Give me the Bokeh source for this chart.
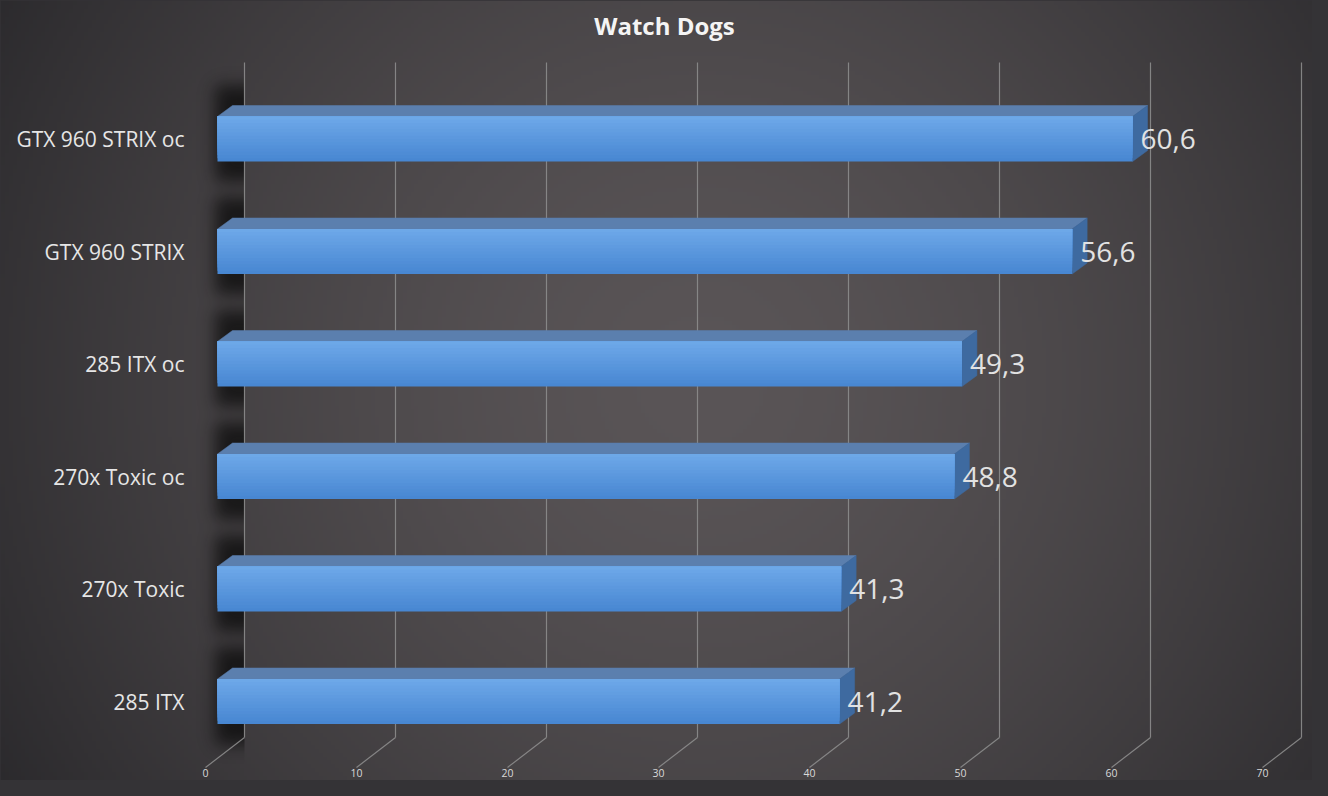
import numpy as np
from bokeh.plotting import figure
from bokeh.models import Range1d
from bokeh.core.properties import value
from bokeh.embed import file_html
from bokeh.resources import INLINE

# ---------------- data ----------------
chart_title = "Watch Dogs"
categories = ["285 ITX", "270x Toxic", "270x Toxic oc", "285 ITX oc", "GTX 960 STRIX", "GTX 960 STRIX oc"]
fps = [41.2, 41.3, 48.8, 49.3, 56.6, 60.6]
fps_labels = ["41,2", "41,3", "48,8", "49,3", "56,6", "60,6"]
ticks = [0, 10, 20, 30, 40, 50, 60, 70]
tick_labels = ["0", "10", "20", "30", "40", "50", "60", "70"]

# ---------------- layout (pixels) ----------------
W, H = 1312, 780
PXX = 15.1      # px per unit on value axis
PXY = 112.5     # px per category step
X0 = 217        # px from left of value 0 (front plane)
Y0 = 701        # px from top of first category centre

x_start = -X0 / PXX
x_end = x_start + W / PXX
y_start = -(H - Y0) / PXY
y_end = y_start + H / PXY


def px(n):
    return n / PXX


def py(n):
    return n / PXY


BG_EDGE = "#343336"
p = figure(width=W, height=H, x_range=Range1d(x_start, x_end), y_range=Range1d(y_start, y_end),
           x_axis_type=None, y_axis_type=None, toolbar_location=None, output_backend="svg",
           min_border=0, outline_line_color=None,
           background_fill_color=BG_EDGE, border_fill_color=BG_EDGE)

# ---------------- background gradient ----------------
nh, nw = 200, 330
xs = np.linspace(0, W, nw)
ys = np.linspace(H, 0, nh)
XX, YY = np.meshgrid(xs, ys)
d = np.sqrt(((XX - 700) / 850.0) ** 2 + ((YY - 380) / 850.0) ** 2)
t = np.clip(d, 0, 1) ** 1.5
c_center = np.array([90, 85, 87])
c_edge = np.array([40, 39, 42])
rgb = c_center[None, None, :] * (1 - t[..., None]) + c_edge[None, None, :] * t[..., None]
img = np.empty((nh, nw), dtype=np.uint32)
view = img.view(dtype=np.uint8).reshape((nh, nw, 4))
view[..., 0:3] = rgb.astype(np.uint8)
view[..., 3] = 255
p.image_rgba(image=[img], x=x_start, y=y_start, dw=x_end - x_start, dh=y_end - y_start)

idx = list(range(len(categories)))
half = py(22.5)
ddx = px(15)
ddy = py(11)
back = px(27)

# ---------------- soft wall shadows (blurred image built from bar positions) ----------------
sx0, sx1, pad = 176, 244, 32
cols = np.arange(sx0 - pad, sx1 + pad) + 0.5
rows = np.arange(0, H) + 0.5
mask = np.zeros((len(rows), len(cols)))
for i in idx:
    c = Y0 - i * PXY
    rmask = (rows >= c - 22.5 - 11 - 20) & (rows <= c + 22.5 + 20)
    cmask = (cols >= 215) & (cols <= 270)
    mask[np.ix_(rmask, cmask)] = 1.0
sig = 8.0
kx = np.arange(-28, 29)
kern = np.exp(-kx ** 2 / (2 * sig ** 2))
kern /= kern.sum()
blur = np.apply_along_axis(lambda r: np.convolve(r, kern, mode="same"), 1, mask)
blur = np.apply_along_axis(lambda r: np.convolve(r, kern, mode="same"), 0, blur)
blur = blur[:, pad:pad + (sx1 - sx0)]
alpha = np.clip(0.72 * blur, 0, 1)[::-1, :]
sh = np.zeros(alpha.shape, dtype=np.uint32)
shv = sh.view(dtype=np.uint8).reshape(alpha.shape + (4,))
shv[..., 0:3] = 8
shv[..., 3] = (alpha * 255).astype(np.uint8)
p.image_rgba(image=[sh], x=px(sx0 - X0), y=y_start, dw=px(sx1 - sx0), dh=y_end - y_start)

# ---------------- gridlines (back wall + floor) ----------------
grid_top = y_end - py(62)
grid_bot = py(-36)
p.segment(x0=[tk + back for tk in ticks], x1=[tk + back for tk in ticks],
          y0=[grid_bot] * len(ticks), y1=[grid_top] * len(ticks),
          line_color="#8c8c8c", line_width=1.2, line_alpha=0.9)
p.segment(x0=[tk + back for tk in ticks], x1=[tk + px(-12) for tk in ticks],
          y0=[grid_bot] * len(ticks), y1=[py(-66)] * len(ticks),
          line_color="#8c8c8c", line_width=1.2, line_alpha=0.9)

# ---------------- 3D bars ----------------
top_xs = [[0, v, v + ddx, ddx] for v in fps]
top_ys = [[i + half, i + half, i + half + ddy, i + half + ddy] for i in idx]
p.patches(xs=top_xs, ys=top_ys, fill_color="#5b7fae", line_color="#5b7fae", line_width=0.5)

side_xs = [[v, v + ddx, v + ddx, v] for v in fps]
side_ys = [[i + half, i + half + ddy, i - half + ddy, i - half] for i in idx]
p.patches(xs=side_xs, ys=side_ys, fill_color="#3e6aa0", line_color="#3e6aa0", line_width=0.5)

c_bot = np.array([72, 135, 210])
c_top = np.array([112, 170, 234])
n_strips = 14
for k in range(n_strips):
    f = k / n_strips
    col = c_bot * (1 - f) + c_top * f
    hexcol = "#%02x%02x%02x" % tuple(int(round(c)) for c in col)
    p.quad(left=[0] * len(fps), right=fps,
           bottom=[i + half - 2 * half * (1 - f) for i in idx],
           top=[i + half for i in idx],
           fill_color=hexcol, line_color=None)

# ---------------- texts ----------------
p.text(x=[v + px(8) for v in fps], y=idx, text=fps_labels,
       text_font=value("Open Sans"), text_font_size="28px", text_color="#e2e2e2",
       text_align="left", text_baseline="middle")

p.text(x=[px(-33)] * len(categories), y=idx, text=categories,
       text_font=value("Open Sans"), text_font_size="21px", text_color="#e6e6e6",
       text_align="right", text_baseline="middle")

p.text(x=[tk + px(-12) for tk in ticks], y=[py(-71)] * len(ticks), text=tick_labels,
       text_font=value("Open Sans"), text_font_size="10.5px", text_color="#d9d9d9",
       text_align="center", text_baseline="middle")

p.text(x=[x_start + 664 / PXX], y=[y_end - py(25)], text=[chart_title],
       text_font=value("Open Sans"), text_font_size="24px", text_font_style="bold",
       text_color="#f4f4f4", text_align="center", text_baseline="middle")

html = file_html(p, INLINE)
html = html.replace("</head>", "<style>html, body { background: %s; }</style></head>" % BG_EDGE, 1)
open("out.html", "w").write(html)
